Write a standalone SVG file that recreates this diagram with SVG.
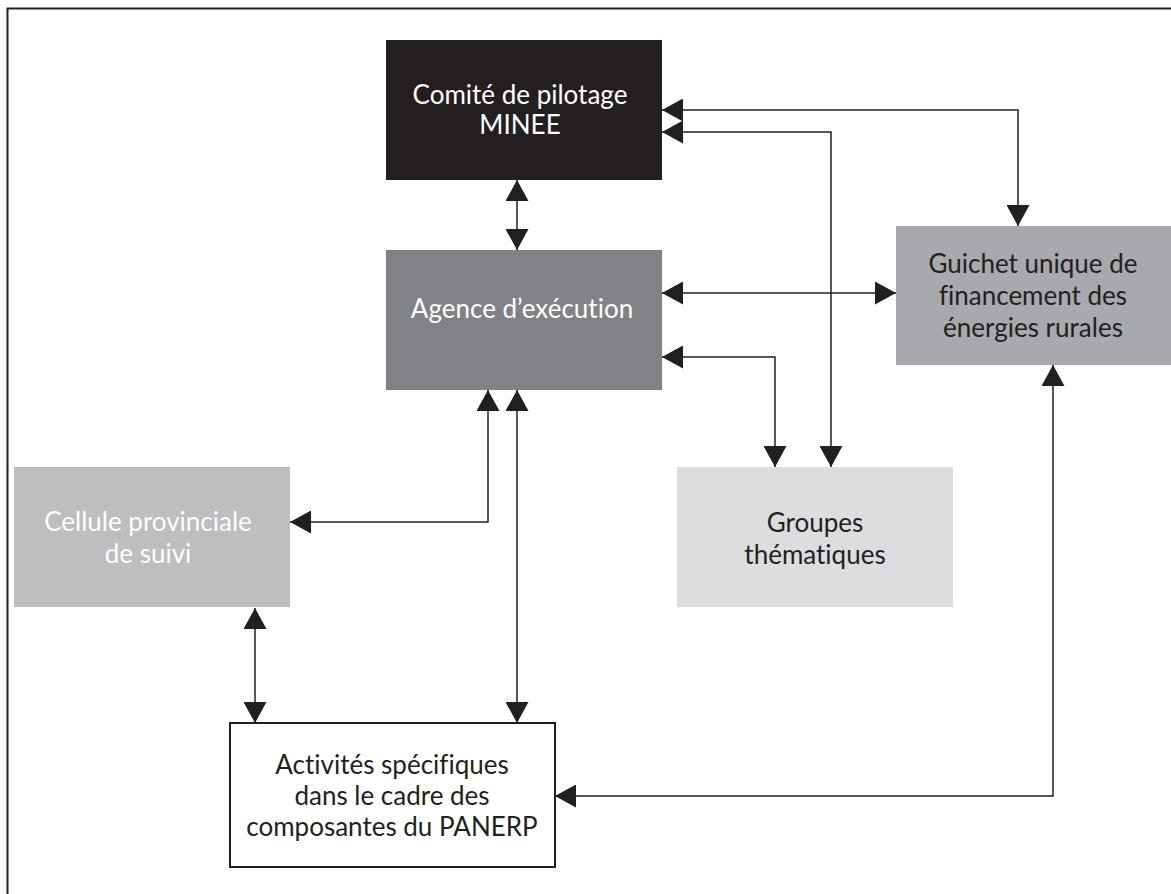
<svg xmlns="http://www.w3.org/2000/svg" width="1171" height="894" viewBox="0 0 1171 894">
<style>
.lbl{font-family:Lato,"Open Sans","Liberation Sans",sans-serif;font-size:26px;text-anchor:middle;font-variant-ligatures:none}
.w{fill:#ffffff}
.d{fill:#231f20}
.con{fill:none;stroke:#231f20;stroke-width:1.5;marker-start:url(#ah);marker-end:url(#ah)}
</style>
<defs>
<marker id="ah" markerUnits="userSpaceOnUse" markerWidth="21" markerHeight="23" refX="21" refY="11.5" orient="auto-start-reverse" viewBox="0 0 21 23">
<path d="M0,0 L21,11.5 L0,23 z" fill="#231f20"/>
</marker>
</defs>
<rect width="1171" height="894" fill="#ffffff"/>
<rect x="7.5" y="8.5" width="1200" height="1000" fill="none" stroke="#231f20" stroke-width="2"/>
<g id="connectors">
<path class="con" d="M517,180 V250"/>
<path class="con" d="M662,110 H1018 V226"/>
<path class="con" d="M662,132 H831 V467"/>
<path class="con" d="M662,293 H896"/>
<path class="con" d="M662,357 H775 V467"/>
<path class="con" d="M488,390 V522 H290"/>
<path class="con" d="M517,390 V723"/>
<path class="con" d="M255,608 V723"/>
<path class="con" d="M1053,365 V796 H555"/>
</g>
<g id="comite">
<rect x="386" y="40" width="276" height="140" fill="#231f20"/>
<text class="lbl w" x="520" y="104">Comité de pilotage</text>
<text class="lbl w" x="520" y="134">MINEE</text>
</g>
<g id="agence">
<rect x="386" y="250" width="276" height="140" fill="#808285"/>
<text class="lbl w" x="522" y="318">Agence d’exécution</text>
</g>
<g id="guichet">
<rect x="896" y="226" width="276" height="139" fill="#a7a9ac"/>
<text class="lbl d" x="1033" y="273">Guichet unique de</text>
<text class="lbl d" x="1033" y="305">financement des</text>
<text class="lbl d" x="1033" y="337">énergies rurales</text>
</g>
<g id="groupes">
<rect x="677" y="467" width="276" height="140" fill="#dcdddf"/>
<text class="lbl d" x="815" y="532">Groupes</text>
<text class="lbl d" x="815" y="564">thématiques</text>
</g>
<g id="cellule">
<rect x="14" y="467" width="276" height="140" fill="#bcbec0"/>
<text class="lbl w" x="148" y="531">Cellule provinciale</text>
<text class="lbl w" x="148" y="563">de suivi</text>
</g>
<g id="activites">
<rect x="230" y="723" width="325" height="144" fill="#ffffff" stroke="#231f20" stroke-width="2"/>
<text class="lbl d" x="392" y="774">Activités spécifiques</text>
<text class="lbl d" x="392" y="805">dans le cadre des</text>
<text class="lbl d" x="392" y="836">composantes du PANERP</text>
</g>
</svg>
